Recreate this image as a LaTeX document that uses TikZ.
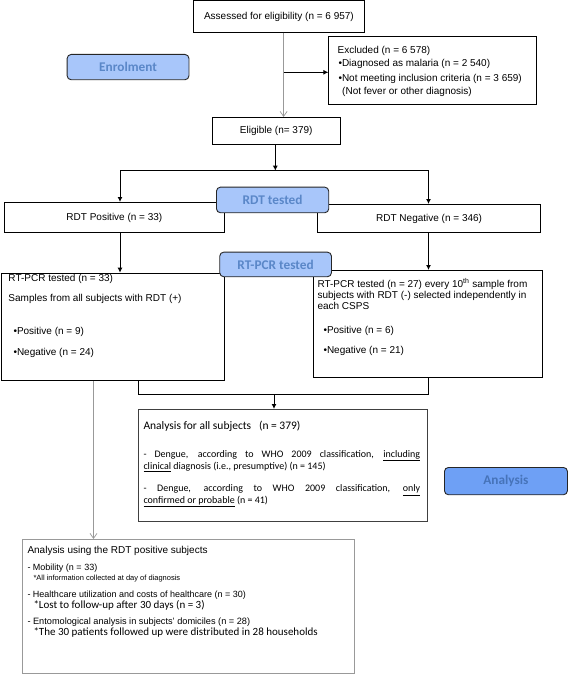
\documentclass[tikz,border=0pt]{standalone}
\usepackage{fontspec}
\setmainfont{Liberation Sans}
\newfontfamily\calibri{Carlito}
\usetikzlibrary{arrows.meta}
\definecolor{pillfill}{HTML}{A8C6FA}
\definecolor{pilltext}{HTML}{5A87C8}
\definecolor{anafill}{HTML}{6EA0F5}
\definecolor{anatext}{HTML}{4673B9}
\definecolor{greyline}{HTML}{999999}
\begin{document}
\begin{tikzpicture}[x=1pt,y=-1pt,
  box/.style={draw=black,line width=0.9pt,inner sep=0pt,anchor=north west,font=\fontsize{10}{12}\selectfont},
  pill/.style={draw=black!85,line width=0.9pt,rounded corners=4pt,inner sep=0pt,anchor=north west,fill=pillfill,text=pilltext,font=\calibri\bfseries\fontsize{13.3}{15}\selectfont},
  txt/.style={anchor=base west,inner sep=0pt,font=\fontsize{10}{12}\selectfont},
  ctxt/.style={anchor=base west,inner sep=0pt,font=\calibri\fontsize{10}{12}\selectfont},
  barrow/.style={draw=black,line width=1pt,-{Latex[length=5pt,width=5pt]}},
  bline/.style={draw=black,line width=1pt},
  garrow/.style={draw=greyline,line width=0.7pt,-{Straight Barb[length=5pt,width=7pt]}},
]
\useasboundingbox (0,0) rectangle (568,674);

% boxes
\node[box,minimum width=171pt,minimum height=31.2pt] (assess) at (193,0.5) {Assessed for eligibility (n = 6 957)};
\node[box,minimum width=207.6pt,minimum height=67.7pt] (excl) at (328.4,36) {};
\node[box,minimum width=127.6pt,minimum height=27pt] (elig) at (212,117) {Eligible (n= 379)};
\node[box,minimum width=220.7pt,minimum height=30.3pt] (rdtpos) at (3.6,202) {RDT Positive (n = 33)};
\node[box,minimum width=222.7pt,minimum height=28.3pt] (rdtneg) at (317.3,204) {RDT Negative (n = 346)};
\node[box,minimum width=223.6pt,minimum height=107.3pt] (pcrl) at (0.7,272.7) {};
\node[box,minimum width=228.4pt,minimum height=106.7pt] (pcrr) at (313.3,270) {};
\node[box,draw=black!75,line width=0.8pt,minimum width=288.4pt,minimum height=111.7pt] (anaall) at (138.3,409) {};
\node[box,draw=black!40,line width=0.8pt,minimum width=332pt,minimum height=134pt] (anardt) at (22.3,539) {};

% excluded text
\node[txt] (ex1) at (337.5,53.5) {Excluded (n = 6 578)};
\node[txt] (ex2) at (338.3,66.8) {•Diagnosed as malaria (n = 2 540)};
\node[txt] (ex3) at (338.3,81.2) {•Not meeting inclusion criteria (n = 3 659)};
\node[txt] (ex4) at (342,94.5) {(Not fever or other diagnosis)};

% left RT-PCR box text
\node[txt] (l1) at (8.3,281.5) {RT-PCR tested (n = 33)};
\node[txt] (l2) at (8.3,301.2) {Samples from all subjects with RDT (+)};
\node[txt] (l3) at (13.3,334.5) {•Positive (n = 9)};
\node[txt] (l4) at (13.3,355.2) {•Negative (n = 24)};

% right RT-PCR box text
\node[txt] (r1) at (317.3,287.5) {RT-PCR tested (n = 27) every 10\textsuperscript{th} sample from};
\node[txt] (r2) at (317.3,298.5) {subjects with RDT (-) selected independently in};
\node[txt] (r3) at (317.3,309.5) {each CSPS};
\node[txt] (r4) at (323.3,333.5) {•Positive (n = 6)};
\node[txt] (r5) at (323.3,353.5) {•Negative (n = 21)};

% analysis for all subjects
\node[ctxt,font=\calibri\fontsize{11.5}{13}\selectfont] (a1) at (143.3,429.5) {Analysis for all subjects\ \ \ (n = 379)};
\node[ctxt] (a2) at (143.3,457.5) {\makebox[276.7pt][s]{- Dengue, according to WHO 2009 classification, \underline{including}}};
\node[ctxt] (a3) at (143.3,469.5) {\underline{clinical} diagnosis (i.e., presumptive) (n = 145)};
\node[ctxt] (a4) at (143.3,491.8) {\makebox[276.7pt][s]{- Dengue, according to WHO 2009 classification, \underline{only}}};
\node[ctxt] (a5) at (143.3,503.5) {\underline{confirmed or probable} (n = 41)};

% analysis using RDT positive subjects
\node[txt] (b1) at (27.3,553.5) {Analysis using the RDT positive subjects};
\node[txt,font=\fontsize{9}{11}\selectfont] (b2) at (27.3,570.5) {- Mobility (n = 33)};
\node[txt,font=\fontsize{7.5}{9}\selectfont] (b3) at (33.3,580.5) {*All information collected at day of diagnosis};
\node[txt,font=\fontsize{9}{11}\selectfont] (b4) at (27.3,597.5) {- Healthcare utilization and costs of healthcare (n = 30)};
\node[ctxt,font=\calibri\fontsize{11}{13}\selectfont] (b5) at (33.3,608.5) {*Lost to follow-up after 30 days (n = 3)};
\node[txt,font=\fontsize{9.2}{11}\selectfont] (b6) at (27.3,624.5) {- Entomological analysis in subjects' domiciles (n = 28)};
\node[ctxt,font=\calibri\fontsize{11}{13}\selectfont] (b7) at (33.3,635.5) {*The 30 patients followed up were distributed in 28 households};

% helper coordinates
\coordinate (xa) at (283.6,0);
\coordinate (ya) at (0,72.3);
\coordinate (xb) at (275.3,0);
\coordinate (yh) at (0,170.7);
\coordinate (xl) at (120,0);
\coordinate (xr) at (428.5,0);
\coordinate (xg) at (93.5,0);
\coordinate (xj) at (138.3,0);
\coordinate (yj) at (0,394.3);
\coordinate (xm) at (274,0);

% connectors
\draw[garrow] (assess.south -| xa) -- (elig.north -| xa);
\draw[barrow] (xa |- ya) -- (excl.west |- ya);
\draw[barrow] (elig.south -| xb) -- (xb |- yh);
\draw[barrow] (xb |- yh) -| (rdtpos.north -| xl);
\draw[barrow] (xb |- yh) -| (rdtneg.north -| xr);
\draw[barrow] (rdtpos.south -| xl) -- (pcrl.north -| xl);
\draw[barrow] (rdtneg.south -| xr) -- (pcrr.north -| xr);
\draw[garrow] (pcrl.south -| xg) -- (anardt.north -| xg);
\draw[bline] (pcrl.south -| xj) |- (xr |- yj) -- (pcrr.south -| xr);
\draw[barrow] (xm |- yj) -- (anaall.north -| xm);

% pills
\node[pill,minimum width=121.8pt,minimum height=25.3pt] (enrol) at (66.7,54) {Enrolment};
\node[pill,minimum width=112.3pt,minimum height=25.6pt] (rdtt) at (216,186.7) {RDT tested};
\node[pill,minimum width=111.7pt,minimum height=24.6pt] (pcrt) at (219.3,251.7) {RT-PCR tested};
\node[pill,fill=anafill,text=anatext,minimum width=123pt,minimum height=27.3pt] (anap) at (444,467) {Analysis};
\end{tikzpicture}
\end{document}
